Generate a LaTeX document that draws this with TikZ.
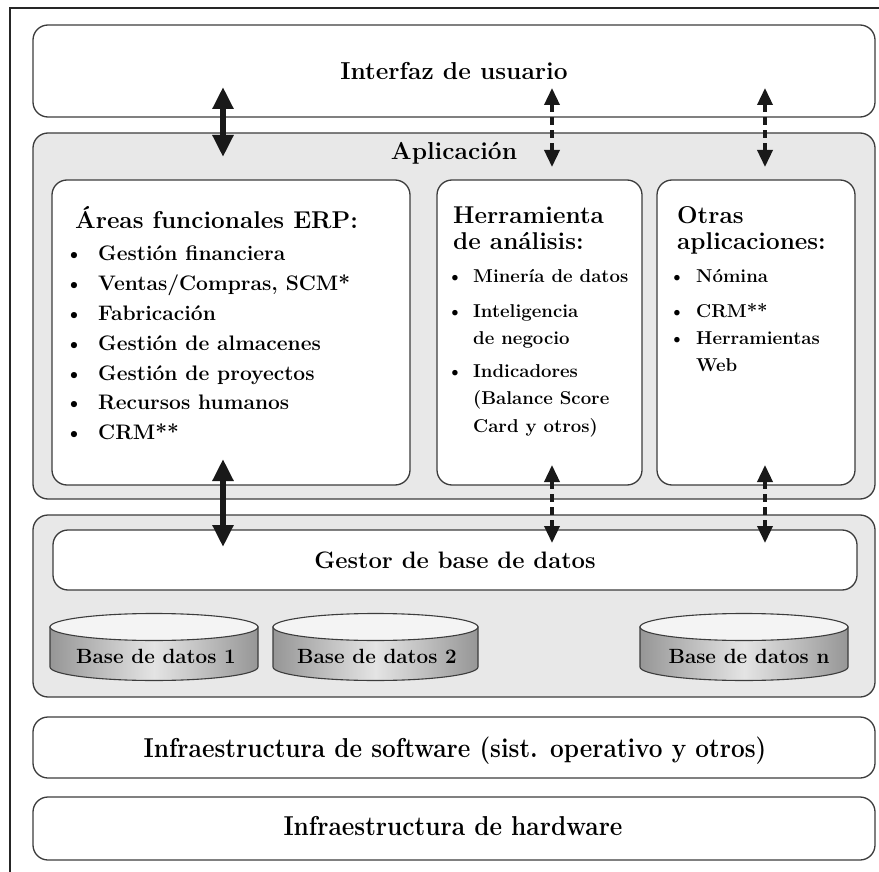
\documentclass[tikz,border=0pt]{standalone}
\usetikzlibrary{arrows.meta}
\definecolor{panel}{RGB}{232,232,232}
\definecolor{edge}{RGB}{60,60,60}
\definecolor{dbtop}{RGB}{244,244,244}
\definecolor{dbside}{RGB}{150,150,150}
\definecolor{dbmid}{RGB}{228,228,228}
\begin{document}
\begin{tikzpicture}[x=1pt,y=-1pt,
  layer/.style={draw=edge,line width=1.3pt,rounded corners=15pt,fill=white,inner sep=0pt},
  panelbox/.style={layer,fill=panel},
  ttl/.style={font=\fontsize{24.5}{28}\selectfont\bfseries,inner sep=0pt},
  hdr/.style={font=\fontsize{24.3}{28}\selectfont\bfseries,inner sep=0pt,anchor=base west},
  itemA/.style={font=\fontsize{21}{24}\selectfont\bfseries,inner sep=0pt,anchor=base west},
  itemB/.style={font=\fontsize{18.6}{22}\selectfont\bfseries,inner sep=0pt,anchor=base west},
  dbl/.style={font=\fontsize{20.6}{24}\selectfont\bfseries,inner sep=0pt},
  infra/.style={font=\fontsize{24.4}{28}\selectfont\bfseries,inner sep=0pt,anchor=base},
  solidarr/.style={draw=black!90,line width=5.5pt,{Triangle[width=20pt,length=22pt]}-{Triangle[width=20pt,length=22pt]}},
  dasharr/.style={draw=black!90,line width=3.5pt,dash pattern=on 8pt off 5pt,{Triangle[width=15pt,length=17pt]}-{Triangle[width=15pt,length=17pt]}},
  dbbody/.style={draw=edge,line width=1.1pt,left color=dbside,right color=dbside,middle color=dbmid},
  dbcap/.style={draw=edge,line width=1.1pt,fill=dbtop}
]
\useasboundingbox (0,0) rectangle (879,872);
\fill[white] (0,0) rectangle (879,872);
\draw[line width=1.5pt,black!85] (10,880) -- (10,8) -- (890,8);

% layers
\node[layer,minimum width=842pt,minimum height=92pt,font=\fontsize{24.5}{28}\selectfont\bfseries] (ui) at (454,71) {Interfaz de usuario};
\node[panelbox,minimum width=842pt,minimum height=366pt] (app) at (454,316) {};
\node[ttl,anchor=base] (appt) at (454,160) {Aplicación};

\node[layer,minimum width=358pt,minimum height=305pt] (erp) at (231,332.5) {};
\node[layer,minimum width=205pt,minimum height=305pt] (herr) at (539.5,332.5) {};
\node[layer,minimum width=198pt,minimum height=305pt] (otras) at (756,332.5) {};

% ERP texts
\node[hdr] (erph) at (75,229) {Áreas funcionales ERP:};
\foreach \t [count=\i] in {Gestión financiera,{Ventas/Compras, SCM*},Fabricación,Gestión de almacenes,Gestión de proyectos,Recursos humanos,CRM**}
  \node[itemA] (erp\i) at (98,231+29.8*\i) {\llap{\textbullet\hspace{15pt}}\t};

% Herramienta texts
\node[hdr] (herh1) at (453,224) {Herramienta};
\node[hdr] (herh2) at (453,249) {de análisis:};
\node[itemB] (her1) at (473,282) {\llap{\textbullet\hspace{10pt}}Minería de datos};
\node[itemB] (her2) at (473,317) {\llap{\textbullet\hspace{10pt}}Inteligencia};
\node[itemB] (her3) at (473,344) {de negocio};
\node[itemB] (her4) at (473,377) {\llap{\textbullet\hspace{10pt}}Indicadores};
\node[itemB] (her5) at (473,404) {(Balance Score};
\node[itemB] (her6) at (473,432) {Card y otros)};

% Otras texts
\node[hdr] (oth1) at (677,224) {Otras};
\node[hdr] (oth2) at (677,249) {aplicaciones:};
\node[itemB] (oti1) at (696,282) {\llap{\textbullet\hspace{11pt}}Nómina};
\node[itemB] (oti2) at (696,317) {\llap{\textbullet\hspace{11pt}}CRM**};
\node[itemB] (oti3) at (696,344) {\llap{\textbullet\hspace{11pt}}Herramientas};
\node[itemB] (oti4) at (696,371) {Web};

% database section
\node[panelbox,minimum width=842pt,minimum height=182pt] (dbs) at (454,606) {};
\node[layer,minimum width=804pt,minimum height=60pt,font=\fontsize{23.8}{28}\selectfont\bfseries] (gestor) at (455,560) {Gestor de base de datos};

% cylinders
\foreach \cx/\rx in {154/104,375.5/102.5,744/104}{
  \path[dbbody] (\cx-\rx,627) -- (\cx-\rx,667) arc[start angle=180,end angle=0,x radius=\rx,y radius=13.5] -- (\cx+\rx,627) -- cycle;
  \path[dbcap] (\cx,627) ellipse[x radius=\rx,y radius=13.5];
}
\node[dbl] (db1) at (156,656) {Base de datos 1};
\node[dbl] (db2) at (377,656) {Base de datos 2};
\node[dbl] (dbn) at (749,656) {Base de datos n};

% infrastructure
\node[layer,minimum width=842pt,minimum height=61pt] (sw) at (454,747.5) {};
\node[infra] (swt) at (455,757) {\scalebox{1}[1.12]{Infraestructura de software (sist. operativo y otros)}};
\node[layer,minimum width=842pt,minimum height=63pt] (hw) at (454,828.5) {};
\node[infra] (hwt) at (453,835) {\scalebox{1}[1.12]{Infraestructura de hardware}};

% arrow end points
\coordinate (a1t) at (223,87);  \coordinate (a1b) at (223,157);
\coordinate (a2t) at (552,88);  \coordinate (a2b) at (552,167);
\coordinate (a3t) at (765,88);  \coordinate (a3b) at (765,167);
\coordinate (b1t) at (223,459); \coordinate (b1b) at (223,547);
\coordinate (b2t) at (552,465); \coordinate (b2b) at (552,543);
\coordinate (b3t) at (765,465); \coordinate (b3b) at (765,543);

\draw[solidarr] (a1t) -- (a1b);
\draw[dasharr] (a2t) -- (a2b);
\draw[dasharr] (a3t) -- (a3b);
\draw[solidarr] (b1t) -- (b1b);
\draw[dasharr] (b2t) -- (b2b);
\draw[dasharr] (b3t) -- (b3b);
\end{tikzpicture}
\end{document}
